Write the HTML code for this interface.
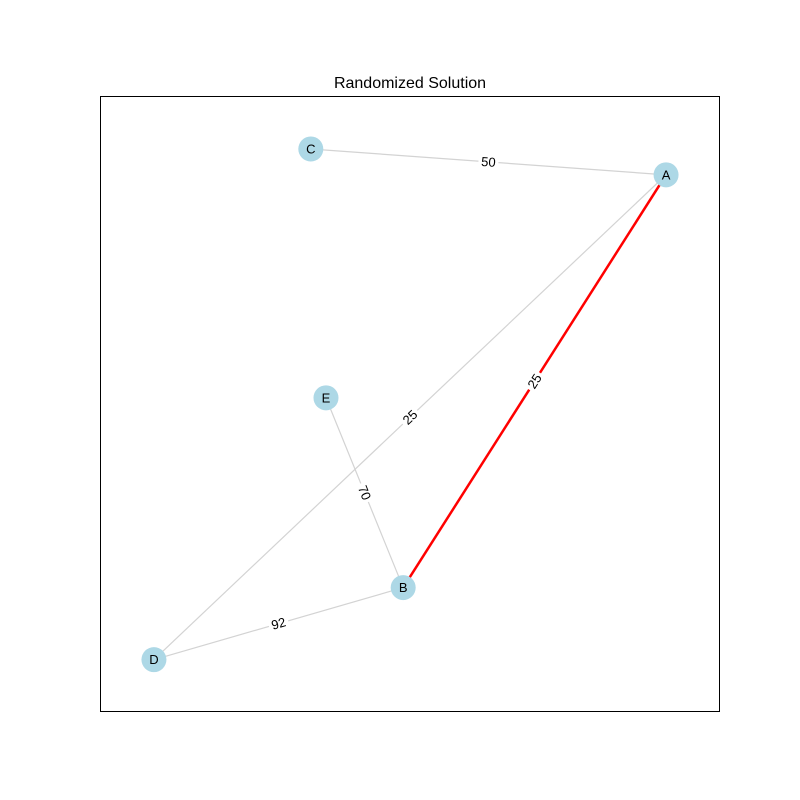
<!DOCTYPE html>
<html><head><meta charset="utf-8">
<style>
body{margin:0;background:#fff;}
svg{display:block;font-family:"Liberation Sans","DejaVu Sans",sans-serif;}
</style></head>
<body>
<svg id="chart" width="800" height="800">
<rect x="0" y="0" width="800" height="800" fill="#fff"/>
<rect x="100.5" y="96.5" width="619" height="615" fill="none" stroke="#000" stroke-width="1"/>
<text x="410" y="88" text-anchor="middle" font-size="16" fill="#000">Randomized Solution</text>
<g id="edges"></g><g id="nodes"></g><g id="labels"></g>
</svg>
<script>
// node data in data coordinates (0-100 range)
const nodeNames = ["A","B","C","D","E"];
const nodeX = [91.3, 48.9, 34.0, 8.7, 36.45];
const nodeY = [87.2, 20.2, 91.4, 8.5, 51.0];
const edgeFrom = ["C","A","A","E","D"];
const edgeTo   = ["A","D","B","B","B"];
const edgeWeights = [50, 25, 25, 70, 92];
const edgeHighlighted = [false, false, true, false, false];

// axes mapping
const X0=100, X1=720, Y0=712, Y1=96;
function sx(v){return X0+(v/100)*(X1-X0);}
function sy(v){return Y0-(v/100)*(Y0-Y1);}
const NS="http://www.w3.org/2000/svg";
const eg=document.getElementById('edges'), ng=document.getElementById('nodes'), lg=document.getElementById('labels');
function pos(n){const i=nodeNames.indexOf(n);return [sx(nodeX[i]),sy(nodeY[i])];}
for(let i=0;i<edgeFrom.length;i++){
  const [x1,y1]=pos(edgeFrom[i]), [x2,y2]=pos(edgeTo[i]);
  const l=document.createElementNS(NS,'line');
  l.setAttribute('x1',x1);l.setAttribute('y1',y1);l.setAttribute('x2',x2);l.setAttribute('y2',y2);
  l.setAttribute('stroke',edgeHighlighted[i]?'#ff0000':'#d3d3d3');
  l.setAttribute('stroke-width',edgeHighlighted[i]?2.5:1.2);
  
  
  eg.appendChild(l);
  const mx=(x1+x2)/2, my=(y1+y2)/2;
  let ang=Math.atan2(y2-y1,x2-x1)*180/Math.PI;
  if(ang>90)ang-=180; if(ang<-90)ang+=180;
  const g=document.createElementNS(NS,'g');
  g.setAttribute('transform','translate('+mx+','+my+') rotate('+ang+')');
  
  
  const r=document.createElementNS(NS,'rect');
  r.setAttribute('x',-10);r.setAttribute('y',-8);r.setAttribute('width',20);r.setAttribute('height',16);r.setAttribute('fill','#fff');
  g.appendChild(r);
  const t=document.createElementNS(NS,'text');
  t.setAttribute('text-anchor','middle');t.setAttribute('y',4.5);t.setAttribute('font-size','13');
  t.textContent=edgeWeights[i];
  g.appendChild(t);
  lg.appendChild(g);
}
for(let i=0;i<nodeNames.length;i++){
  const x=sx(nodeX[i]), y=sy(nodeY[i]);
  const c=document.createElementNS(NS,'circle');
  c.setAttribute('cx',x);c.setAttribute('cy',y);c.setAttribute('r',12.5);c.setAttribute('fill','#add8e6');
  
  
  ng.appendChild(c);
  const t=document.createElementNS(NS,'text');
  t.setAttribute('x',x);t.setAttribute('y',y+4.5);t.setAttribute('text-anchor','middle');t.setAttribute('font-size','13');
  t.textContent=nodeNames[i];
  
  
  ng.appendChild(t);
}
</script>
</body></html>
